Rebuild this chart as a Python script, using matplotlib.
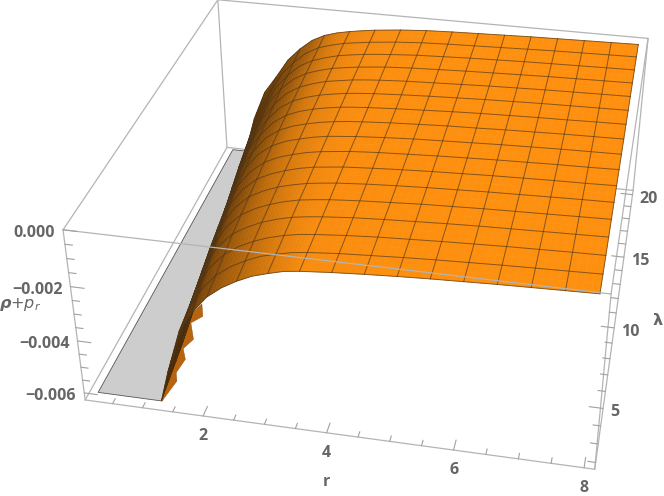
import numpy as np
import matplotlib
matplotlib.use("Agg")
import matplotlib.pyplot as plt
from mpl_toolkits.mplot3d.art3d import Poly3DCollection

# ---------- values (z in units of 0.001) ----------
r_nodes = [0.6875, 0.93, 1.175, 1.42, 1.6625, 1.906, 2.15, 2.394, 2.6375, 2.88, 3.125,
           3.37, 3.6125, 4.1, 4.5875, 5.075, 5.5625, 6.05, 6.5375, 7.025, 7.5125, 8.0]
lambda_nodes = [2.0, 3.125, 4.25, 5.375, 6.5, 7.625, 8.75, 9.875, 11.0,
                12.125, 13.25, 14.375, 15.5, 16.625, 17.75, 18.875, 20.0]
r_cut = [1.27, 1.23, 1.19, 1.15, 1.10, 1.05, 1.00, 0.95, 0.90, 0.86, 0.82, 0.77, 0.72,
         0.67, 0.62, 0.56, 0.50]
z_floor = -6.15
# one list per r node, running through lambda_nodes
z_by_r = [
    [-6.15]*13 + [-6.0, -5.6, -5.2, -4.7],
    [-6.15]*8 + [-5.9, -5.5, -5.15, -4.85, -4.55, -4.3, -4.05, -3.8, -3.5],
    [-6.15]*3 + [-5.95, -5.6, -5.25, -4.95, -4.65, -4.4, -4.15, -3.95, -3.7, -3.5, -3.3, -3.1, -2.95, -2.8],
    [-5.0, -4.65, -4.35, -4.1, -3.85, -3.6, -3.4, -3.2, -3.0, -2.85, -2.7, -2.6, -2.47, -2.35, -2.25, -2.15, -2.05],
    [-3.4, -3.25, -3.05, -2.9, -2.75, -2.6, -2.45, -2.3, -2.2, -2.1, -2.0, -1.92, -1.83, -1.72, -1.68, -1.62, -1.55],
    [-2.6, -2.45, -2.28, -2.12, -2.0, -1.9, -1.8, -1.7, -1.6, -1.52, -1.46, -1.4, -1.34, -1.28, -1.24, -1.2, -1.15],
    [-2.0, -1.88, -1.75, -1.62, -1.53, -1.45, -1.37, -1.3, -1.23, -1.17, -1.12, -1.08, -1.04, -1.0, -0.97, -0.93, -0.9],
    [-1.6, -1.5, -1.4, -1.32, -1.24, -1.18, -1.12, -1.06, -1.0, -0.96, -0.92, -0.89, -0.86, -0.83, -0.81, -0.78, -0.75],
    [-1.3, -1.22, -1.15, -1.08, -1.03, -0.98, -0.94, -0.9, -0.86, -0.82, -0.78, -0.75, -0.72, -0.7, -0.68, -0.66, -0.65],
    [-1.06, -1.0, -0.96, -0.91, -0.87, -0.84, -0.8, -0.77, -0.74, -0.71, -0.68, -0.66, -0.64, -0.62, -0.6, -0.59, -0.57],
    [-0.9, -0.86, -0.82, -0.78, -0.75, -0.73, -0.7, -0.68, -0.65, -0.63, -0.6, -0.58, -0.56, -0.55, -0.53, -0.52, -0.5],
    [-0.76, -0.74, -0.72, -0.7, -0.68, -0.66, -0.64, -0.62, -0.6, -0.57, -0.55, -0.53, -0.51, -0.5, -0.48, -0.47, -0.45],
    [-0.69, -0.67, -0.66, -0.64, -0.62, -0.6, -0.58, -0.56, -0.55, -0.53, -0.51, -0.49, -0.47, -0.45, -0.44, -0.42, -0.4],
    [-0.6, -0.58, -0.57, -0.55, -0.54, -0.52, -0.51, -0.49, -0.48, -0.46, -0.45, -0.43, -0.41, -0.39, -0.37, -0.35, -0.33],
    [-0.53, -0.52, -0.5, -0.49, -0.48, -0.46, -0.45, -0.44, -0.42, -0.41, -0.4, -0.38, -0.37, -0.35, -0.33, -0.31, -0.29],
    [-0.47, -0.46, -0.45, -0.44, -0.42, -0.41, -0.4, -0.39, -0.38, -0.36, -0.35, -0.34, -0.33, -0.31, -0.29, -0.28, -0.26],
    [-0.42, -0.41, -0.4, -0.39, -0.38, -0.37, -0.36, -0.35, -0.34, -0.33, -0.31, -0.3, -0.29, -0.28, -0.26, -0.25, -0.23],
    [-0.38, -0.37, -0.36, -0.35, -0.34, -0.33, -0.32, -0.31, -0.3, -0.29, -0.28, -0.27, -0.26, -0.25, -0.23, -0.22, -0.2],
    [-0.34, -0.33, -0.32, -0.32, -0.31, -0.3, -0.29, -0.28, -0.27, -0.26, -0.25, -0.24, -0.23, -0.22, -0.21, -0.19, -0.18],
    [-0.31, -0.3, -0.29, -0.29, -0.28, -0.27, -0.26, -0.25, -0.24, -0.23, -0.23, -0.22, -0.21, -0.2, -0.19, -0.17, -0.16],
    [-0.28, -0.27, -0.26, -0.26, -0.25, -0.24, -0.24, -0.23, -0.22, -0.21, -0.2, -0.2, -0.19, -0.18, -0.17, -0.15, -0.14],
    [-0.25, -0.24, -0.24, -0.23, -0.22, -0.22, -0.21, -0.2, -0.2, -0.19, -0.18, -0.18, -0.17, -0.16, -0.15, -0.13, -0.12],
]
# saw-toothed lower rim at the front edge, closed along the surface's front row
tooth_r = [1.27, 1.55, 1.55, 1.72, 1.70, 1.88, 1.86, 2.06, 2.06, 1.906, 1.6625, 1.42]
tooth_z = [-6.15, -5.28, -4.96, -4.40, -4.00, -3.60, -3.00, -2.70, -2.25, -2.6, -3.4, -5.0]

r_ticks = [2, 4, 6, 8]
r_minor = [0.5, 1, 1.5, 2.5, 3, 3.5, 4.5, 5, 5.5, 6.5, 7, 7.5]
lambda_ticks = [5, 10, 15, 20]
lambda_minor = [2, 3, 4, 6, 7, 8, 9, 11, 12, 13, 14, 16, 17, 18, 19]
z_ticks = [0, -2, -4, -6]
z_minor = [-0.5, -1, -1.5, -2.5, -3, -3.5, -4.5, -5, -5.5]
z_tick_labels = ["0.000", "\u22120.002", "\u22120.004", "\u22120.006"]
mesh_r_index = [0, 2, 4, 6, 8, 10, 12, 13, 14, 15, 16, 17, 18, 19, 20, 21]

# box limits
R0, R1 = 0.04, 8.16
L0, L1 = 1.64, 20.36
ZB, ZT = -6.28, 0.0
R_START = 0.2

# view: where the box corners sit on the canvas (pixels, y down)
corner_px = {
    (R0, L0, ZB): (85, 400), (R1, L0, ZB): (595, 469),
    (R1, L1, ZB): (633, 191), (R0, L1, ZB): (227, 147),
    (R0, L0, ZT): (63, 230), (R1, L0, ZT): (611, 294),
    (R1, L1, ZT): (648, 38), (R0, L1, ZT): (218, 0),
}

W, H = 664, 496
plt.rcParams["font.family"] = ["Open Sans", "DejaVu Sans"]
plt.rcParams["mathtext.fontset"] = "dejavusans"
fig = plt.figure(figsize=(W / 100, H / 100), dpi=100, facecolor="white")
ax = fig.add_axes([0, 0, 1, 1], projection="3d")
ax.apply_aspect = lambda position=None: None
ax.set_position([0, 0, 1, 1])
ax.set_axis_off()
ax.computed_zorder = False


def camera():
    """Projection fitted to the box corners, in the axes' 2D data units."""
    inv = ax.transData.inverted()
    rows = []
    for (x, y, z), (px, py) in corner_px.items():
        u, v = inv.transform((px / W * fig.bbox.width, (H - py) / H * fig.bbox.height))
        X = [x, y, z, 1]
        rows.append(X + [0, 0, 0, 0] + [-u * c for c in X])
        rows.append([0, 0, 0, 0] + X + [-v * c for c in X])
    P = np.linalg.svd(np.array(rows))[2][-1].reshape(3, 4)
    if P[2] @ np.array([4, 10, -3, 1]) < 0:
        P = -P
    return np.array([P[0], P[1], [0, 0, 0, -1], P[2]])


ax.get_proj = camera

R = np.array(r_nodes)
L = np.array(lambda_nodes)
cut = np.array(r_cut)
Z = np.maximum(np.array(z_by_r).T, z_floor)
X = np.maximum(R[None, :], cut[:, None])
Y = np.repeat(L[:, None], len(R), axis=1)

# brightness at each node: flat parts bright orange, steep parts dark
base = np.array([1.0, 0.565, 0.06])
slope = np.gradient(Z, axis=1) / np.maximum(np.gradient(X, axis=1), 0.02)
node_shade = np.clip((1.0 / np.sqrt(1 + (1.6 * slope) ** 2)) ** 0.5, 0, 1)

# each mesh facet is split flat into small pieces so that the colour ramps smoothly
SUB_R, SUB_L = 4, 2
def split(a):
    s = np.arange(a.shape[1] - 1)[:, None] + np.linspace(0, 1, SUB_R, endpoint=False)[None, :]
    s = np.append(s.ravel(), a.shape[1] - 1)
    t = np.arange(a.shape[0] - 1)[:, None] + np.linspace(0, 1, SUB_L, endpoint=False)[None, :]
    t = np.append(t.ravel(), a.shape[0] - 1)
    b = np.array([np.interp(s, np.arange(a.shape[1]), row) for row in a])
    return np.array([np.interp(t, np.arange(a.shape[0]), col) for col in b.T]).T

Xf, Yf, Zf, Sf = split(X), split(Y), split(Z), split(node_shade)
Sc = 0.25 * (Sf[:-1, :-1] + Sf[1:, :-1] + Sf[:-1, 1:] + Sf[1:, 1:])
fc = np.ones(Sc.shape + (4,))
fc[..., :3] = base * Sc[..., None]

# box edges behind the surface
box_col = "#b4b4b4"
def edge(a, b, z=2, col=box_col, lw=0.9):
    ax.plot([a[0], b[0]], [a[1], b[1]], [a[2], b[2]], color=col, lw=lw, zorder=z,
            solid_capstyle="round")

A, B, C, D = (R0, L0, ZB), (R1, L0, ZB), (R1, L1, ZB), (R0, L1, ZB)
E, F, G, K = (R0, L0, ZT), (R1, L0, ZT), (R1, L1, ZT), (R0, L1, ZT)
for a, b in [(D, C), (K, D), (G, C), (K, G), (D, A), (C, B)]:
    edge(a, b, 2)

# grey clipped floor
floor = [(R_START, L[0], z_floor), (R_START, L[-1], z_floor)]
floor += [(c, l, z_floor) for c, l in zip(cut[::-1], L[::-1])]
ax.add_collection3d(Poly3DCollection([floor], facecolors="#cdcdcd", edgecolors="#555555",
                                     linewidths=0.6, zorder=3))

# saw-teeth below the front edge
teeth = [(a, L[0], b) for a, b in zip(tooth_r, tooth_z)]
ax.add_collection3d(Poly3DCollection([teeth], facecolors="#b8640f", edgecolors="#8a4a0c",
                                     linewidths=0.3, zorder=4))

# the surface
ax.plot_surface(Xf, Yf, Zf, rstride=1, cstride=1, facecolors=fc, shade=False,
                linewidth=0.4, antialiased=True, zorder=5)

# mesh
mesh_col = (0.30, 0.21, 0.11, 0.68)
for j in range(len(L)):
    ax.plot(X[j], Y[j], Z[j], color=mesh_col, lw=0.7, zorder=6)
for i in mesh_r_index:
    xs = np.where(R[i] > cut, X[:, i], np.nan)
    ax.plot(xs, Y[:, i], Z[:, i], color=mesh_col, lw=0.7, zorder=6)

# box edges in front
for a, b in [(A, B), (A, E), (E, F), (F, B), (E, K), (F, G)]:
    edge(a, b, 7)

# ticks
def ticks(vals, make, length):
    for v in vals:
        p, q = make(v, length)
        edge(p, q, 7, "#a0a0a0", 0.8)

ticks(r_ticks, lambda v, n: ((v, L0, ZB), (v, L0 + n, ZB)), 0.55)
ticks(r_minor, lambda v, n: ((v, L0, ZB), (v, L0 + n, ZB)), 0.3)
ticks(lambda_ticks, lambda v, n: ((R1, v, ZB), (R1 - n, v, ZB)), 0.22)
ticks(lambda_minor, lambda v, n: ((R1, v, ZB), (R1 - n, v, ZB)), 0.12)
ticks(z_ticks, lambda v, n: ((R0, L0, v), (R0 + n, L0, v)), 0.22)
ticks(z_minor, lambda v, n: ((R0, L0, v), (R0 + n, L0, v)), 0.12)

# labels: anchored at the tick's position on the canvas, then nudged by pixels
txt = dict(color="#666666", fontsize=11.5, fontweight="bold", va="center")
def label(x, y, z, s, dx, dy, ha):
    p = camera() @ np.array([x, y, z, 1.0])
    px, py = ax.transData.transform((p[0] / p[3], p[1] / p[3]))
    fig.text((px + dx) / fig.bbox.width, (py + dy) / fig.bbox.height, s, ha=ha, **txt)

for v in r_ticks:
    label(v, L0, ZB, str(v), 0, -20, "center")
for v in lambda_ticks:
    label(R1, v, ZB, str(v), 7, -4, "left")
for v, s in zip(z_ticks, z_tick_labels):
    label(R0, L0, v, s, -8, -3, "right")
label(4, L0, ZB, "r", 0, -49, "center")
label(R1, 10.5, ZB, r"$\boldsymbol{\lambda}$", 43, -1, "center")
label(R0, L0, -2.5, r"$\boldsymbol{\rho{+}p_r}$", -52, -4, "center")

fig.savefig("out.png", dpi=100, facecolor="white")
